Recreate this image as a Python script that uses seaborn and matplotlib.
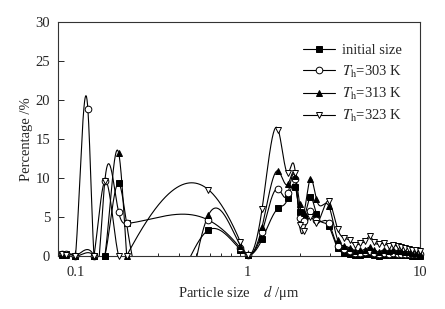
import numpy as np
import pandas as pd
import matplotlib
matplotlib.use('Agg')
import matplotlib.pyplot as plt
from matplotlib.lines import Line2D
import seaborn as sns

# particle size grid (um) and percentages; NaN = no point
size = [0.084, 0.088, 0.1, 0.118, 0.128, 0.148, 0.178, 0.198, 0.59, 0.905, 1.0,
        1.21, 1.5, 1.71, 1.89, 2.0, 2.11, 2.31, 2.5, 2.95, 3.33, 3.6, 3.9, 4.2,
        4.5, 4.8, 5.1, 5.4, 5.8, 6.2, 6.6, 7.0, 7.4, 7.8, 8.2, 8.6, 9.0, 9.5, 10.0]
nan = np.nan
initial = [0.1, 0.3, 0.0, nan, 0.0, 0.0, 9.3, 4.15, 3.3, 0.8, 0.1,
           2.1, 6.1, 7.4, 8.8, 5.6, 4.8, 7.5, 5.4, 3.8, 0.95, 0.4, 0.2, 0.1,
           0.1, 0.2, 0.2, 0.1, 0.0, 0.1, 0.1, 0.1, 0.1, 0.1, 0.1, 0.1, 0.0, 0.0, 0.0]
th303 = [0.3, 0.2, 0.0, 18.8, 0.0, 9.6, 5.6, 4.15, 4.6, 1.0, 0.1,
         3.0, 8.6, 8.0, 9.8, 4.8, 4.5, 5.8, 4.6, 4.2, 1.2, 0.9, 0.6, 0.4,
         0.4, 0.5, 0.6, 0.4, 0.3, 0.4, 0.3, 0.4, 0.3, 0.3, 0.3, 0.2, 0.2, 0.2, 0.2]
th313 = [0.2, 0.1, 0.0, nan, 0.0, 0.0, 13.2, 0.0, 5.2, 1.3, 0.1,
         3.7, 10.9, 9.2, 10.3, 6.6, 5.5, 9.9, 7.3, 6.4, 2.0, 1.3, 1.0, 0.6,
         0.7, 0.8, 1.1, 0.7, 0.5, 0.8, 0.6, 0.8, 0.6, 0.6, 0.5, 0.5, 0.4, 0.4, 0.3]
th323 = [0.2, 0.1, 0.0, nan, 0.0, 9.6, 0.0, 0.0, 8.5, 1.8, 0.1,
         6.0, 16.2, 10.6, 10.6, 3.9, 3.2, 5.0, 4.2, 7.0, 3.4, 2.3, 2.0, 1.4,
         1.6, 1.9, 2.5, 1.8, 1.5, 1.6, 1.3, 1.4, 1.2, 1.1, 1.0, 0.9, 0.8, 0.7, 0.6]

labels = ['initial size', r'$T_\mathrm{h}$=303 K', r'$T_\mathrm{h}$=313 K', r'$T_\mathrm{h}$=323 K']
series = [initial, th303, th313, th323]
markers = ['s', 'o', '^', 'v']
faces = ['black', 'white', 'black', 'white']


def spline(x, y, xs):
    # natural cubic spline, like the "Spline" connect line in the original
    n = len(x)
    h = np.diff(x)
    A = np.zeros((n, n))
    b = np.zeros(n)
    A[0, 0] = A[-1, -1] = 1
    for i in range(1, n - 1):
        A[i, i - 1] = h[i - 1]
        A[i, i] = 2 * (h[i - 1] + h[i])
        A[i, i + 1] = h[i]
        b[i] = 6 * ((y[i + 1] - y[i]) / h[i] - (y[i] - y[i - 1]) / h[i - 1])
    M = np.linalg.solve(A, b)
    k = np.clip(np.searchsorted(x, xs) - 1, 0, n - 2)
    hk = h[k]
    a = x[k + 1] - xs
    c = xs - x[k]
    return (M[k] * a**3 / (6 * hk) + M[k + 1] * c**3 / (6 * hk)
            + (y[k] / hk - M[k] * hk / 6) * a + (y[k + 1] / hk - M[k + 1] * hk / 6) * c)


sns.set_style('ticks')
plt.rcParams['font.family'] = ['Liberation Serif', 'DejaVu Serif']
plt.rcParams['mathtext.fontset'] = 'stix'

fig = plt.figure(figsize=(4.45, 3.09), dpi=100)
ax = fig.add_axes([0.130, 0.172, 0.814, 0.757])

rows = []
for lab, vals in zip(labels, series):
    x = np.array(size)
    y = np.array(vals, dtype=float)
    ok = ~np.isnan(y)
    lx = np.log10(x[ok])
    xs = np.linspace(lx[0], lx[-1], 1500)
    rows.append(pd.DataFrame({'size': 10**xs, 'pct': spline(lx, y[ok], xs), 'series': lab}))
curves = pd.concat(rows)

sns.lineplot(data=curves, x='size', y='pct', hue='series', units='series',
             palette=['black'] * 4, estimator=None, sort=False, lw=0.8,
             legend=False, ax=ax)

handles = []
for lab, vals, m, fc in zip(labels, series, markers, faces):
    ax.plot(size, vals, ls='none', marker=m, ms=4.8, mfc=fc, mec='black',
            mew=0.7, clip_on=False, zorder=3)
    handles.append(Line2D([], [], color='black', lw=0.8, marker=m, ms=4.8,
                          mfc=fc, mec='black', mew=0.7))

ax.set_xscale('log')
ax.set_xlim(0.079, 10)
ax.set_ylim(0, 30)
ax.set_yticks(range(0, 31, 5))
ax.set_xticks([0.1, 1, 10])
ax.set_xticklabels(['0.1', '1', '10'])
ax.tick_params(axis='both', which='both', direction='in', labelsize=10.5, width=0.7)
ax.tick_params(which='major', length=4)
ax.tick_params(axis='x', which='major', pad=7)
ax.tick_params(axis='y', which='major', pad=5.5)
ax.tick_params(which='minor', length=2.5)
ax.yaxis.set_minor_locator(matplotlib.ticker.NullLocator())
ax.xaxis.set_minor_formatter(matplotlib.ticker.NullFormatter())
for s in ax.spines.values():
    s.set_linewidth(0.8)
    s.set_color('#333333')

ax.set_xlabel(r'Particle size    $d$ /μm', fontsize=10.5, labelpad=3)
ax.set_ylabel('Percentage /%', fontsize=10.5, labelpad=2)

ax.legend(handles, labels, loc='upper left', bbox_to_anchor=(0.677, 0.905),
          frameon=False, fontsize=10.5, handlelength=2.2, handletextpad=0.5,
          labelspacing=0.42, borderpad=0, borderaxespad=0)

fig.savefig('out.png', dpi=100)
